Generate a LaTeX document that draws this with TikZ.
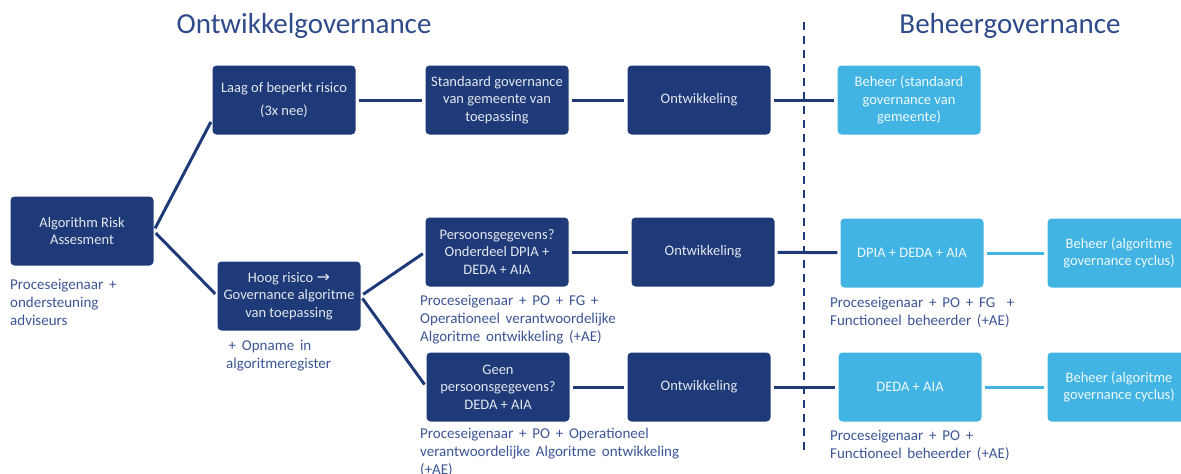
\documentclass[tikz,border=0pt]{standalone}
\usepackage{fontspec}
\setmainfont{Carlito}
\newfontfamily\notefont[WordSpace=1.7]{Carlito}
\newfontfamily\arrowfont{DejaVu Sans}
\definecolor{navy}{HTML}{1E3A78}
\definecolor{sky}{HTML}{41B4E4}
\definecolor{notecol}{HTML}{3C5596}
\definecolor{titlecol}{HTML}{2F4A8A}
\begin{document}
\begin{tikzpicture}[x=1pt,y=-1pt,
  darkbox/.style={fill=navy, rounded corners=4pt, minimum width=143pt, minimum height=69pt,
    inner sep=2pt, align=center, text=white!88!navy, font=\fontsize{14.5}{17.5}\selectfont},
  lightbox/.style={darkbox, fill=sky, text=white!92!sky},
  note/.style={anchor=north west, inner sep=0pt, align=left, text=notecol,
    font=\notefont\fontsize{15}{18}\selectfont},
  heading/.style={text=titlecol, font=\fontsize{29}{32}\selectfont},
  link/.style={navy, line width=3pt, shorten <=3pt, shorten >=3pt},
  lightlink/.style={link, sky}]
\useasboundingbox (0,0) rectangle (1181,474);
% headings and split
\node[heading] (ontwT) at (304,26) {Ontwikkelgovernance};
\node[heading] (beheerT) at (1010,26) {Beheergovernance};
\coordinate (splitTop) at (804,22);
\coordinate (splitBot) at (804,452);
\draw[navy, line width=2pt, dash pattern=on 8pt off 6pt] (splitTop) -- (splitBot);
% boxes
\node[darkbox] (ara) at (82,231) {Algorithm Risk\\Assesment};
\node[darkbox] (laag) at (284,100) {Laag of beperkt risico\\[5pt](3x nee)};
\node[darkbox] (std) at (497,100) {Standaard governance\\van gemeente van\\toepassing};
\node[darkbox] (ontwA) at (699,100) {Ontwikkeling};
\node[lightbox] (beheerA) at (909,100) {Beheer (standaard\\governance van\\gemeente)};
\node[darkbox] (hoog) at (289,296) {Hoog risico {\arrowfont\fontsize{16}{17}\selectfont →}\\Governance algoritme\\van toepassing};
\node[darkbox] (pers) at (497,252) {Persoonsgegevens?\\Onderdeel DPIA +\\DEDA + AIA};
\node[darkbox] (ontwB) at (703,252) {Ontwikkeling};
\node[lightbox] (dpia) at (912,253) {DPIA + DEDA + AIA};
\node[lightbox] (beheerB) at (1119,253) {Beheer (algoritme\\governance cyclus)};
\node[darkbox] (geen) at (498,387) {Geen\\persoonsgegevens?\\DEDA + AIA};
\node[darkbox] (ontwC) at (699,387) {Ontwikkeling};
\node[lightbox] (deda) at (910,387) {DEDA + AIA};
\node[lightbox] (beheerC) at (1119,387) {Beheer (algoritme\\governance cyclus)};
% notes
\node[note] (araN) at (10,279) {Proceseigenaar +\\ondersteuning\\adviseurs};
\node[note] (hoogN) at (226,340) {\,+ Opname in\\algoritmeregister};
\node[note] (persN) at (420,295) {Proceseigenaar + PO + FG +\\Operationeel verantwoordelijke\\Algoritme ontwikkeling (+AE)};
\node[note] (geenN) at (420,428) {Proceseigenaar + PO + Operationeel\\verantwoordelijke Algoritme ontwikkeling\\(+AE)};
\node[note] (dpiaN) at (830,297) {Proceseigenaar + PO + FG\ \ +\\Functioneel beheerder (+AE)};
\node[note] (dedaN) at (830,430) {Proceseigenaar + PO +\\Functioneel beheerder (+AE)};
% connectors
\draw[link] (ara.east) -- (laag.195);
\draw[link] (ara.east) -- (hoog.west);
\draw[link] (laag) -- (std);
\draw[link] (std) -- (ontwA);
\draw[link] (ontwA) -- (beheerA);
\draw[link] (hoog.east) -- (pers.west);
\draw[link] (hoog.east) -- (geen.west);
\draw[link] (pers) -- (ontwB);
\draw[link] (ontwB) -- (dpia);
\draw[lightlink] (dpia) -- (beheerB);
\draw[link] (geen) -- (ontwC);
\draw[link] (ontwC) -- (deda);
\draw[lightlink] (deda) -- (beheerC);
\end{tikzpicture}
\end{document}
